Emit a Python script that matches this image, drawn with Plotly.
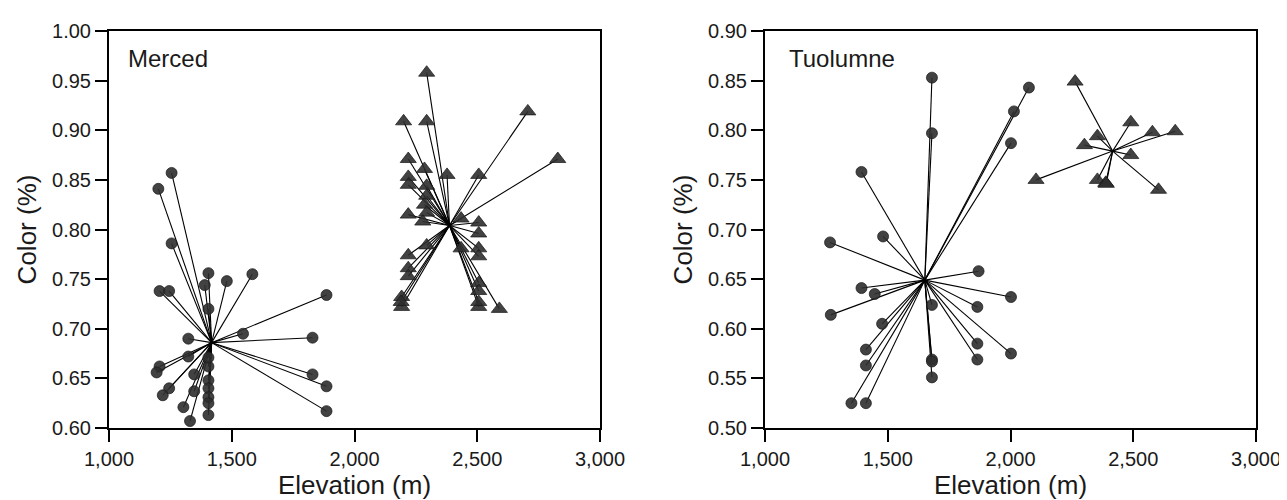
import plotly.graph_objects as go

# ---------------- data ----------------
merced_circle_elev = [1255, 1201, 1255, 1405, 1390, 1480, 1584, 1206, 1245, 1405, 1886, 1546, 1829,
                      1323, 1323, 1206, 1194, 1405, 1347, 1829, 1886, 1405, 1405, 1245, 1219, 1347,
                      1405, 1405, 1303, 1405, 1330, 1886, 1405]
merced_circle_color = [0.857, 0.841, 0.786, 0.756, 0.744, 0.748, 0.755, 0.738, 0.738, 0.720, 0.734,
                       0.695, 0.691, 0.690, 0.672, 0.662, 0.656, 0.662, 0.654, 0.654, 0.642, 0.648,
                       0.640, 0.640, 0.633, 0.637, 0.631, 0.625, 0.621, 0.613, 0.607, 0.617, 0.671]
merced_circle_center = (1418, 0.686)

merced_tri_elev = [2294, 2200, 2294, 2706, 2828, 2219, 2285, 2377, 2506, 2219, 2219, 2294, 2294,
                   2285, 2219, 2294, 2278, 2434, 2506, 2506, 2219, 2294, 2434, 2506, 2506, 2219,
                   2219, 2506, 2506, 2192, 2192, 2506, 2590, 2190, 2506]
merced_tri_color = [0.958, 0.909, 0.909, 0.919, 0.871, 0.871, 0.861, 0.855, 0.855, 0.853, 0.845,
                    0.844, 0.834, 0.825, 0.815, 0.817, 0.808, 0.811, 0.807, 0.796, 0.774, 0.784,
                    0.781, 0.781, 0.773, 0.761, 0.753, 0.746, 0.738, 0.732, 0.722, 0.722, 0.720,
                    0.727, 0.727]
merced_tri_center = (2387, 0.804)

tuol_circle_elev = [1680, 1680, 2075, 2014, 2002, 1393, 1265, 1481, 1870, 1393, 1447, 1268, 2002,
                    1680, 1865, 1477, 1411, 1411, 1865, 1865, 2002, 1680, 1680, 1680, 1352, 1411]
tuol_circle_color = [0.853, 0.797, 0.843, 0.819, 0.787, 0.758, 0.687, 0.693, 0.658, 0.641, 0.635,
                     0.614, 0.632, 0.624, 0.622, 0.605, 0.579, 0.563, 0.585, 0.569, 0.575, 0.569,
                     0.567, 0.551, 0.525, 0.525]
tuol_circle_center = (1651, 0.649)

tuol_tri_elev = [2263, 2490, 2578, 2671, 2354, 2301, 2490, 2104, 2354, 2388, 2390, 2603]
tuol_tri_color = [0.849, 0.808, 0.798, 0.799, 0.794, 0.785, 0.775, 0.750, 0.750, 0.747, 0.746, 0.740]
tuol_tri_center = (2416, 0.779)

x_ticks = [1000, 1500, 2000, 2500, 3000]
left_y_ticks = [0.60, 0.65, 0.70, 0.75, 0.80, 0.85, 0.90, 0.95, 1.00]
right_y_ticks = [0.50, 0.55, 0.60, 0.65, 0.70, 0.75, 0.80, 0.85, 0.90]
panel_names = ["Merced", "Tuolumne"]

# ---------------- figure ----------------
FONT = "Liberation Sans, Arial, sans-serif"
MARK = "rgba(45,45,45,0.9)"
TXT = "#1a1a1a"

fig = go.Figure()


def add_group(xs, ys, center, symbol, size, xa, ya):
    lx, ly = [], []
    for x, y in zip(xs, ys):
        lx += [center[0], x, None]
        ly += [center[1], y, None]
    fig.add_trace(go.Scatter(x=lx, y=ly, mode="lines", xaxis=xa, yaxis=ya,
                             line=dict(color="black", width=1.1), hoverinfo="skip",
                             showlegend=False))
    fig.add_trace(go.Scatter(x=xs, y=ys, mode="markers", xaxis=xa, yaxis=ya,
                             marker=dict(symbol=symbol, size=size, color=MARK,
                                         line=dict(color="rgba(25,25,25,0.9)", width=0.8)),
                             showlegend=False, cliponaxis=False))


add_group(merced_circle_elev, merced_circle_color, merced_circle_center, "circle", 11, "x", "y")
add_group(merced_tri_elev, merced_tri_color, merced_tri_center, "triangle-up", 14, "x", "y")
add_group(tuol_circle_elev, tuol_circle_color, tuol_circle_center, "circle", 11, "x2", "y2")
add_group(tuol_tri_elev, tuol_tri_color, tuol_tri_center, "triangle-up", 14, "x2", "y2")

W, H = 1287, 500
ML, MR, MT, MB = 101, 39, 15, 80
PW = W - ML - MR

axis_common = dict(showline=True, linecolor="black", linewidth=2, mirror=True,
                   ticks="outside", ticklen=12, tickwidth=2, tickcolor="black",
                   showgrid=False, zeroline=False,
                   tickfont=dict(family=FONT, size=20, color=TXT))

xcommon = dict(axis_common, range=[1000, 3000], tickvals=x_ticks,
               ticktext=[f"{v:,}" for v in x_ticks],
               title=dict(text="Elevation (m)", font=dict(family=FONT, size=26, color=TXT),
                          standoff=6))

ytitle = dict(text="Color (%)", font=dict(family=FONT, size=26, color=TXT), standoff=8)

fig.update_layout(
    width=W, height=H,
    margin=dict(l=ML, r=MR, t=MT, b=MB),
    paper_bgcolor="white", plot_bgcolor="white",
    xaxis=dict(xcommon, domain=[0, (592 - ML) / PW], anchor="y"),
    xaxis2=dict(xcommon, domain=[(757 - ML) / PW, 1], anchor="y2"),
    yaxis=dict(axis_common, range=[0.6, 1.0], tickvals=left_y_ticks,
               ticktext=[f"{v:.2f}" for v in left_y_ticks], anchor="x", title=ytitle),
    yaxis2=dict(axis_common, range=[0.5, 0.9], tickvals=right_y_ticks,
                ticktext=[f"{v:.2f}" for v in right_y_ticks], anchor="x2", title=ytitle),
    showlegend=False,
)

fig.add_annotation(text=panel_names[0], xref="x domain", yref="y domain", x=0.035, y=0.93,
                   xanchor="left", yanchor="middle", showarrow=False,
                   font=dict(family=FONT, size=24, color=TXT))
fig.add_annotation(text=panel_names[1], xref="x2 domain", yref="y2 domain", x=0.045, y=0.93,
                   xanchor="left", yanchor="middle", showarrow=False,
                   font=dict(family=FONT, size=24, color=TXT))

fig.write_html("out.html")
